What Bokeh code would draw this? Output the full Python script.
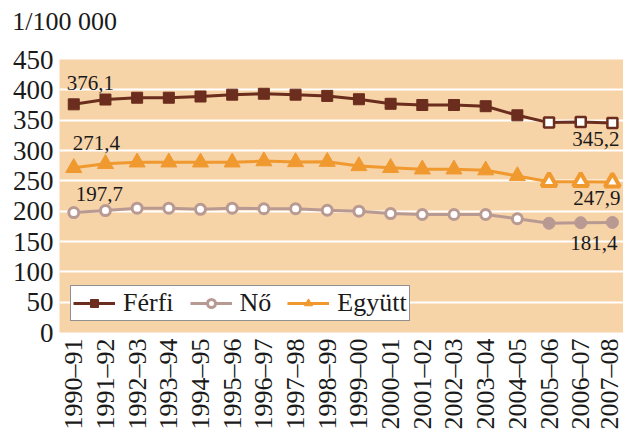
import math
from bokeh.plotting import figure
from bokeh.models import (Range1d, FixedTicker, Legend, LegendItem, ColumnDataSource, LinearAxis)
from bokeh.core.properties import value
from bokeh.embed import file_html
from bokeh.resources import INLINE

categories = ["1990–91", "1991–92", "1992–93", "1993–94", "1994–95", "1995–96",
              "1996–97", "1997–98", "1998–99", "1999–00", "2000–01", "2001–02",
              "2002–03", "2003–04", "2004–05", "2005–06", "2006–07", "2007–08"]
ferfi = [376.1, 384, 387, 387, 389, 392, 393.5, 392, 390, 384.5, 377, 375,
         375, 373, 358, 346, 347, 345.2]
no = [197.7, 201, 205, 205, 203, 205, 204, 204, 201.5, 200, 196, 194.5,
      194.5, 194.5, 187.5, 180, 181, 181.4]
egyutt = [271.4, 278, 280.5, 280.5, 280.5, 280.5, 282.5, 281, 281.5, 274.5,
          271.5, 269, 269, 267.5, 258, 248.5, 248.5, 247.9]
y_ticks = [0, 50, 100, 150, 200, 250, 300, 350, 400, 450]
series_names = ["Férfi", "Nő", "Együtt"]
unit_label = "1/100 000"
split = 15  # last three years drawn with a different marker style

FONT = "Liberation Serif"
BG = "#F7D3A8"
C_F = "#6B2D1D"
C_N = "#B99A93"
C_E = "#F0992F"
TXT = "#1a1a1a"

xs = list(range(len(categories)))
X0, X1 = -0.45, len(categories) - 1 + 0.35
UNIT_POS = -0.29  # horizontal anchor (centre) of the unit caption above the frame

p = figure(width=623, height=432, output_backend="svg", toolbar_location=None,
           x_range=Range1d(X0, X1),
           y_range=Range1d(0, 450),
           min_border_left=59, min_border_right=0, min_border_top=59,
           min_border_bottom=100)
p.background_fill_color = BG
p.border_fill_color = "white"
p.outline_line_color = None

bottom_axis = p.below[0]
left_axis = p.left[0]

# unit caption drawn as the single label of an axis placed above the frame
top_axis = LinearAxis(ticker=FixedTicker(ticks=[UNIT_POS]),
                      major_label_overrides={UNIT_POS: unit_label})
p.add_layout(top_axis, "above")

for ax in (bottom_axis, left_axis, top_axis):
    ax.axis_line_color = None
    ax.major_tick_line_color = None
    ax.minor_tick_line_color = None
    ax.major_tick_out = 0
    ax.major_tick_in = 0
    ax.minor_tick_out = 0
    ax.minor_tick_in = 0
    ax.major_label_text_font = FONT
    ax.major_label_text_color = TXT
    ax.major_label_standoff = 6

top_axis.major_label_text_font_size = "26px"
top_axis.major_label_standoff = 24

left_axis.ticker = FixedTicker(ticks=y_ticks)
left_axis.major_label_text_font_size = "27px"

bottom_axis.ticker = FixedTicker(ticks=xs)
bottom_axis.major_label_overrides = {i: c for i, c in enumerate(categories)}
bottom_axis.major_label_orientation = math.pi / 2
bottom_axis.major_label_text_font_size = "26px"

p.xgrid.grid_line_color = None
p.ygrid.ticker = FixedTicker(ticks=y_ticks)
p.ygrid.grid_line_color = "white"
p.ygrid.grid_line_width = 2

# Nő
l_n = p.line(xs, no, line_color=C_N, line_width=3)
s_n1 = p.scatter(xs[:split], no[:split], marker="circle", size=10, fill_color="white",
                 line_color=C_N, line_width=3)
s_n2 = p.scatter(xs[split:], no[split:], marker="circle", size=12, fill_color=C_N,
                 line_color=C_N, line_width=1)
# Együtt
l_e = p.line(xs, egyutt, line_color=C_E, line_width=3)
s_e1 = p.scatter(xs[:split], egyutt[:split], marker="triangle", size=16, fill_color=C_E,
                 line_color=C_E, line_width=1)
s_e2 = p.scatter(xs[split:], egyutt[split:], marker="triangle", size=15, fill_color="white",
                 line_color=C_E, line_width=4)
# Férfi
l_f = p.line(xs, ferfi, line_color=C_F, line_width=3)
s_f1 = p.scatter(xs[:split], ferfi[:split], marker="square", size=11, fill_color=C_F,
                 line_color=C_F, line_width=1)
s_f2 = p.scatter(xs[split:], ferfi[split:], marker="square", size=10, fill_color="white",
                 line_color=C_F, line_width=2.5)


def fmt(v):
    return f"{v:.1f}".replace(".", ",")


lab_first = ColumnDataSource(dict(
    x=[xs[0]] * 3, y=[ferfi[0], egyutt[0], no[0]],
    t=[fmt(ferfi[0]), fmt(egyutt[0]), fmt(no[0])],
    xo=[-7, -1, 2], yo=[-21, -25, -19]))
p.text(x="x", y="y", text="t", x_offset="xo", y_offset="yo", source=lab_first,
       text_font=value(FONT), text_font_size="21px", text_color=TXT,
       text_align="left", text_baseline="alphabetic")
lab_last = ColumnDataSource(dict(
    x=[xs[-1]] * 3, y=[ferfi[-1], egyutt[-1], no[-1]],
    t=[fmt(ferfi[-1]), fmt(egyutt[-1]), fmt(no[-1])],
    xo=[7, 8, 5], yo=[16, 16, 21]))
p.text(x="x", y="y", text="t", x_offset="xo", y_offset="yo", source=lab_last,
       text_font=value(FONT), text_font_size="21px", text_color=TXT,
       text_align="right", text_baseline="alphabetic")

legend = Legend(items=[
    LegendItem(label=series_names[0], renderers=[l_f, s_f1]),
    LegendItem(label=series_names[1], renderers=[l_n, s_n1]),
    LegendItem(label=series_names[2], renderers=[l_e, s_e1]),
], location="bottom_left", orientation="horizontal")
legend.label_text_font = FONT
legend.label_text_font_size = "26px"
legend.label_text_color = TXT
legend.border_line_color = "#222222"
legend.border_line_width = 1.5
legend.background_fill_color = "white"
legend.background_fill_alpha = 1
legend.glyph_width = 42
legend.glyph_height = 20
legend.label_standoff = 8
legend.spacing = 16
legend.padding = 2
legend.margin = 11
p.add_layout(legend, "center")

open("out.html", "w").write(file_html(p, INLINE))
